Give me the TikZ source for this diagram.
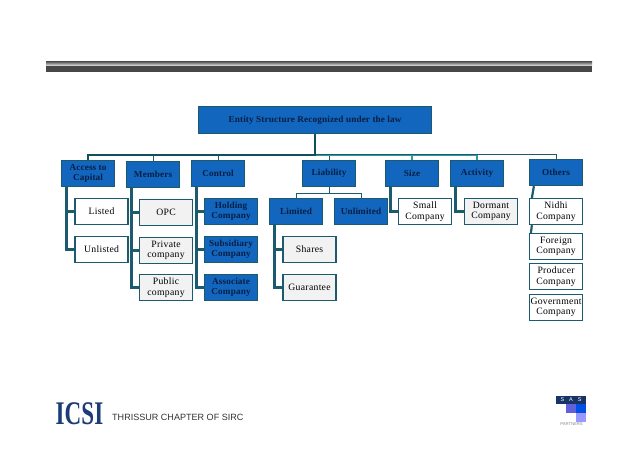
\documentclass[tikz,border=0pt]{standalone}
\usepackage{fontspec}
\setmainfont{Liberation Serif}
\newfontfamily\labelfont{Liberation Sans}
\usetikzlibrary{calc,positioning}
\definecolor{bluefill}{HTML}{1266BE}
\definecolor{edgeteal}{HTML}{1C5A6E}
\definecolor{busdark}{HTML}{0F4F5E}
\definecolor{busteal}{HTML}{2E9C96}
\definecolor{navytxt}{HTML}{071F45}
\definecolor{greyfill}{HTML}{F2F2F2}
\definecolor{logonavy}{HTML}{1C3C78}
\tikzset{
  x=1pt,y=-1pt,
  basebox/.style={draw=edgeteal,line width=1.3pt,minimum width=53pt,minimum height=26pt,inner sep=0pt,align=center},
  bluebox/.style={basebox,fill=bluefill,text=navytxt,font=\bfseries\fontsize{9.2}{10.4}\selectfont\addfontfeatures{LetterSpace=1.5}},
  whitebox/.style={basebox,fill=white,text=black,font=\fontsize{9.7}{10.4}\selectfont\addfontfeatures{LetterSpace=3}},
  greybox/.style={basebox,fill=greyfill,text=black,font=\fontsize{9.7}{10.4}\selectfont\addfontfeatures{LetterSpace=3}},
  conn/.style={draw=edgeteal,line width=2.2pt},
  thinconn/.style={draw=edgeteal,line width=1.1pt},
  busline/.style={draw=busdark,line width=2pt},
  tealline/.style={draw=busteal,line width=1.5pt},
}
\newcommand{\boxat}[5]{\node[#1,anchor=north west] (#2) at (#3,#4) {#5};}
\begin{document}
\begin{tikzpicture}
\useasboundingbox (0,0) rectangle (638,451);
\fill[white] (0,0) rectangle (638,451);
% top bar
\shade[top color=gray!55!black,bottom color=gray!15] (46,61) rectangle (592,66);
\fill[black!72] (46,66) rectangle (592,72);
\begin{scope}[shift={(-0.6,-0.6)}]
% root
\node[bluebox,anchor=north west,minimum width=233pt,minimum height=27pt] (root) at (198.5,106.5) {Entity Structure Recognized under the law};
% level 1
\boxat{bluebox}{access}{61.5}{160.5}{Access to\\Capital}
\boxat{bluebox}{members}{126.5}{161.5}{Members}
\boxat{bluebox}{control}{191.5}{160.5}{Control}
\boxat{bluebox}{liability}{302.5}{160.5}{Liability}
\boxat{bluebox}{size}{385.5}{160.5}{Size}
\boxat{bluebox}{activity}{450.5}{160.5}{Activity}
\boxat{bluebox}{others}{529.5}{159.5}{Others}
% children
\boxat{whitebox}{listed}{75}{198.5}{Listed}
\boxat{whitebox}{unlisted}{75}{236.5}{Unlisted}
\boxat{greybox}{opc}{139.5}{199.5}{OPC}
\boxat{greybox}{private}{139.5}{237.5}{Private\\company}
\boxat{greybox}{public}{139.5}{274.5}{Public\\company}
\boxat{bluebox}{holding}{204.5}{198.5}{Holding\\Company}
\boxat{bluebox}{subsidiary}{204.5}{236.5}{Subsidiary\\Company}
\boxat{bluebox}{associate}{204.5}{274.5}{Associate\\Company}
\boxat{bluebox}{limited}{269.5}{198.5}{Limited}
\boxat{bluebox}{unlimited}{334.5}{198.5}{Unlimited}
\boxat{greybox}{shares}{283}{236.5}{Shares}
\boxat{greybox}{guarantee}{283}{274.5}{Guarantee}
\boxat{whitebox}{small}{398.5}{198.5}{Small\\Company}
\boxat{greybox}{dormant}{464.5}{198.5}{Dormant\\Company}
\boxat{whitebox}{nidhi}{529.5}{198.5}{Nidhi\\Company}
\boxat{whitebox}{foreign}{529.5}{233.5}{Foreign\\Company}
\boxat{whitebox}{producer}{529.5}{263.5}{Producer\\Company}
\boxat{whitebox}{government}{529.5}{294.5}{Government\\Company}
\end{scope}
% connectors: bus
\coordinate (bus) at ($(root.south)+(0,20.5)$);
\coordinate (busteal) at ($(bus)+(0,0.7)$);
\draw[thinconn] (bus -| liability.north) -- (liability.north);
\draw[thinconn] (bus -| control.north) -- (control.north);
\draw[thinconn] (bus -| members.north) -- (members.north);
\draw[tealline] (busteal) -| (size.north);
\draw[tealline] (busteal -| size.north) -| (activity.north);
\draw[thinconn,line width=1pt] ($(bus)+(0,-0.3)$) -| (others.north);
\draw[busline] (bus) -| (access.north);
\draw[busline,line width=2.6pt] (root.south) -- ($(bus)+(0,1)$);
% liability split
\coordinate (lsplit) at ($(liability.south)+(0,6)$);
\draw[thinconn] (liability.south) -- (lsplit) -| (limited.north);
\draw[thinconn] (lsplit) -| (unlimited.north);
% elbows
\foreach \parentbox/\kid in {access/listed,access/unlisted,members/opc,members/private,members/public,control/holding,control/subsidiary,control/associate,limited/shares,limited/guarantee,size/small,activity/dormant}{
  \draw[conn] ($(\parentbox.south west)+(5.5,0)$) |- (\kid.west);
}
\draw[conn] ($(others.south west)+(5,0)$) -- ($(nidhi.north west)+(3,0)$);
\draw[conn] ($(nidhi.south west)+(3,0)$) -- ($(foreign.north west)+(2,0)$);
% ICSI logo
\node[text=logonavy,inner sep=0pt,font=\bfseries\fontsize{22}{22}\selectfont] (logo) at (79.5,414) {\scalebox{1.05}[1.5]{ICSI}};
\node[anchor=west,inner sep=0pt,font=\labelfont\fontsize{9.05}{11}\selectfont,text=black!80] (chapter) at (112,417.5) {THRISSUR CHAPTER OF SIRC};
% SAS logo
\fill[logonavy!85!black] (556,396) rectangle (586,403.5);
\node[text=white,inner sep=0pt,font=\labelfont\fontsize{5.5}{6}\selectfont] (sas) at (571,399.8) {S\hspace{5pt}A\hspace{5pt}S};
\fill[blue!55!white!85!black] (566,404) rectangle (575.5,412.5);
\fill[blue!65!cyan!90!black] (576,404) rectangle (585.5,412.5);
\fill[blue!40!white] (576,413) rectangle (585.5,421.5);
\node[text=black!45,inner sep=0pt,font=\labelfont\fontsize{4.2}{5}\selectfont] (partners) at (571.5,424.5) {PARTNERS};
\end{tikzpicture}
\end{document}
